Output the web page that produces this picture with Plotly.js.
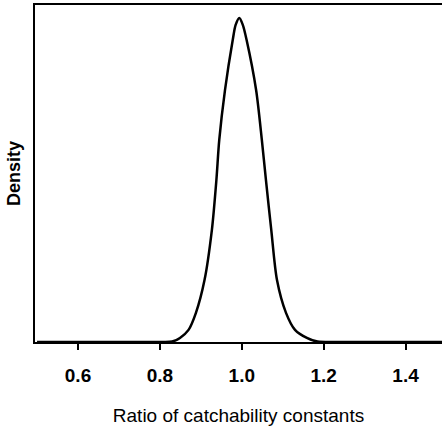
<!DOCTYPE html>
<html>
<head>
<meta charset="utf-8">
<script src="https://cdn.plot.ly/plotly-3.0.1.min.js"></script>
<style>html,body{margin:0;padding:0;background:#fff;}#chart{width:442px;height:431px;}</style>
</head>
<body>
<div id="chart"></div>
<script>
// Ratio of catchability constants (x) and density (y)
var ratio   = [0.50, 0.70, 0.80, 0.83, 0.849, 0.870, 0.888, 0.909, 0.927, 0.938, 0.945, 0.959, 0.978, 0.985, 0.994, 1.0025, 1.0117, 1.035, 1.049, 1.059, 1.072, 1.086, 1.108, 1.130, 1.159, 1.185, 1.25, 1.50];
var density = [0, 0, 0, 0.01, 0.10, 0.30, 0.72, 1.53, 2.77, 4.0, 4.99, 6.22, 7.46, 7.83, 8.0, 7.83, 7.46, 6.22, 4.99, 4.0, 2.77, 1.53, 0.72, 0.30, 0.10, 0.01, 0, 0];
var tickVals = [0.6, 0.8, 1.0, 1.2, 1.4];
var tickText = ["0.6", "0.8", "1.0", "1.2", "1.4"];

var trace = {
  x: ratio, y: density, type: 'scatter', mode: 'lines',
  line: {color: '#000', width: 2.5, shape: 'spline', smoothing: 0.8},
  hoverinfo: 'skip'
};
var layout = {
  width: 442, height: 431,
  margin: {l: 35, r: 0, t: 5, b: 89},
  paper_bgcolor: '#fff', plot_bgcolor: '#fff',
  showlegend: false,
  font: {family: 'Liberation Sans, Arial, sans-serif', color: '#000'},
  xaxis: {
    range: [0.495, 1.489], showgrid: false, zeroline: false,
    showline: true, linecolor: '#000', linewidth: 2, mirror: true,
    ticks: 'outside', ticklen: 6, tickwidth: 2, tickcolor: '#000',
    tickvals: tickVals, ticktext: tickText, ticklabelstandoff: 9,
    tickfont: {size: 19, weight: 'bold', color: '#000'},
    title: {text: 'Ratio of catchability constants', font: {size: 19, color: '#000'}, standoff: 24},
    automargin: false
  },
  yaxis: {
    range: [0, 8.32], showgrid: false, zeroline: false,
    showline: true, linecolor: '#000', linewidth: 2, mirror: false,
    ticks: '', showticklabels: false,
    title: {text: 'Density', font: {size: 18, weight: 'bold', color: '#000'}, standoff: 8},
    automargin: false
  }
};
Plotly.newPlot('chart', [trace], layout, {displayModeBar: false, staticPlot: true});
</script>
</body>
</html>
